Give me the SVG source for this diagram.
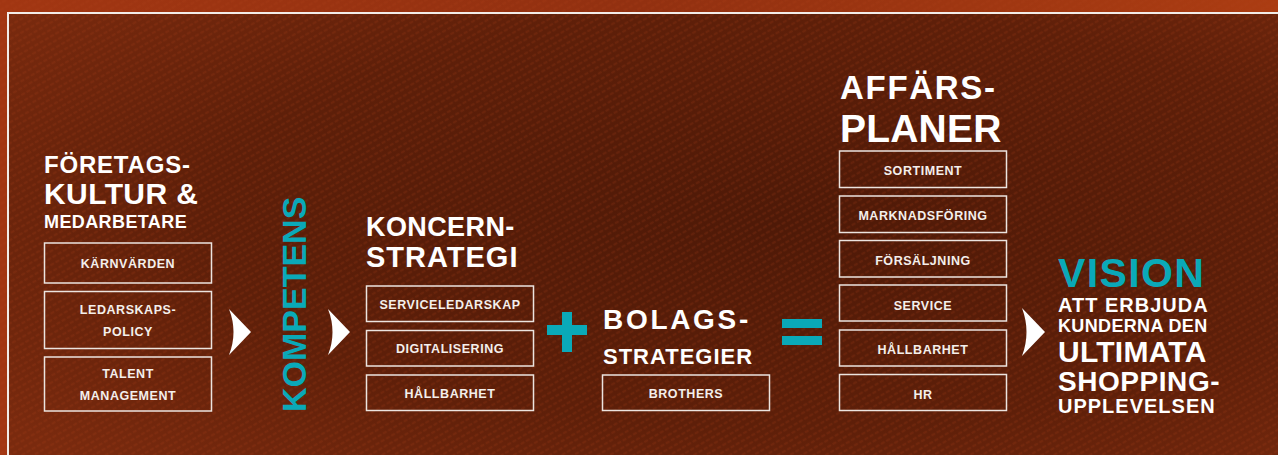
<svg xmlns="http://www.w3.org/2000/svg" width="1278" height="455" viewBox="0 0 1278 455">
<defs>
<radialGradient id="bg" cx="0.6" cy="0.45" r="0.75">
<stop offset="0" stop-color="#4e1907"/>
<stop offset="0.6" stop-color="#5e1f09"/>
<stop offset="1" stop-color="#7a2a0e"/>
</radialGradient>
<linearGradient id="outer" x1="0" y1="0" x2="1" y2="0">
<stop offset="0" stop-color="#a23612"/>
<stop offset="0.5" stop-color="#923010"/>
<stop offset="1" stop-color="#ab3c12"/>
</linearGradient>
<pattern id="tex" width="6" height="6" patternUnits="userSpaceOnUse" patternTransform="rotate(-30)">
<ellipse cx="3" cy="3" rx="2.4" ry="1.3" fill="#b0451a" opacity="0.18"/>
</pattern>
<style>
.box{fill:none;stroke:#ece4df;stroke-width:1.5}
.bt{font-family:"Liberation Sans",Arial,sans-serif;font-weight:bold;font-size:12.5px;letter-spacing:0.55px;fill:#f4efec;text-anchor:middle}
.h{font-family:"Liberation Sans",Arial,sans-serif;font-weight:bold;fill:#ffffff}
.teal{fill:#0aa9b8}
.arr{fill:#ffffff}
</style>
</defs>
<rect x="0" y="0" width="1278" height="455" fill="url(#outer)"/>
<rect x="8" y="13" width="1290" height="460" fill="url(#bg)"/>
<rect x="0" y="0" width="1278" height="455" fill="url(#tex)"/>
<rect x="8" y="13" width="1290" height="460" fill="none" stroke="#f2ece8" stroke-width="2"/>

<g id="foretagskultur">
<text class="h" x="44" y="173" font-size="24" letter-spacing="0.8">FÖRETAGS-</text>
<text class="h" x="44" y="204" font-size="30" letter-spacing="0.4">KULTUR &amp;</text>
<text class="h" x="44" y="228" font-size="18" letter-spacing="0.4">MEDARBETARE</text>
<rect class="box" x="44.5" y="243" width="167" height="40"/>
<text class="bt" x="128" y="268">KÄRNVÄRDEN</text>
<rect class="box" x="44.5" y="291.5" width="167" height="57"/>
<text class="bt" x="128" y="314">LEDARSKAPS-</text>
<text class="bt" x="128" y="336">POLICY</text>
<rect class="box" x="44.5" y="357" width="167" height="54"/>
<text class="bt" x="128" y="378">TALENT</text>
<text class="bt" x="128" y="400">MANAGEMENT</text>
</g>

<g id="kompetens">
<text class="h teal" transform="translate(306,412) rotate(-90)" font-size="34" letter-spacing="0">KOMPETENS</text>
</g>

<g id="koncernstrategi">
<text class="h" x="366" y="236" font-size="27" letter-spacing="0.4">KONCERN-</text>
<text class="h" x="366" y="267" font-size="29" letter-spacing="1">STRATEGI</text>
<rect class="box" x="366.5" y="286" width="167" height="35.5"/>
<text class="bt" x="450" y="309">SERVICELEDARSKAP</text>
<rect class="box" x="366.5" y="330.5" width="167" height="35.5"/>
<text class="bt" x="450" y="353">DIGITALISERING</text>
<rect class="box" x="366.5" y="375" width="167" height="35.5"/>
<text class="bt" x="450" y="397.5">HÅLLBARHET</text>
</g>

<g id="bolagsstrategier">
<text class="h" x="603" y="329" font-size="28" letter-spacing="2.7">BOLAGS-</text>
<text class="h" x="603" y="364" font-size="22" letter-spacing="1">STRATEGIER</text>
<rect class="box" x="602.5" y="375" width="167" height="35.5"/>
<text class="bt" x="686" y="397.5">BROTHERS</text>
</g>

<g id="affarsplaner">
<text class="h" x="840" y="99" font-size="33" letter-spacing="1.7">AFFÄRS-</text>
<text class="h" x="840" y="141.5" font-size="39" letter-spacing="0.2">PLANER</text>
<rect class="box" x="839.5" y="151" width="167" height="36.5"/>
<text class="bt" x="923" y="175">SORTIMENT</text>
<rect class="box" x="839.5" y="196" width="167" height="36.5"/>
<text class="bt" x="923" y="219.5">MARKNADSFÖRING</text>
<rect class="box" x="839.5" y="240.5" width="167" height="36.5"/>
<text class="bt" x="923" y="264.5">FÖRSÄLJNING</text>
<rect class="box" x="839.5" y="285" width="167" height="36"/>
<text class="bt" x="923" y="309.5">SERVICE</text>
<rect class="box" x="839.5" y="330" width="167" height="36"/>
<text class="bt" x="923" y="353.5">HÅLLBARHET</text>
<rect class="box" x="839.5" y="374.5" width="167" height="36"/>
<text class="bt" x="923" y="398.5">HR</text>
</g>

<g id="vision">
<text class="h teal" x="1058" y="287" font-size="41" letter-spacing="1.4">VISION</text>
<text class="h" x="1058" y="312" font-size="20" letter-spacing="1">ATT ERBJUDA</text>
<text class="h" x="1058" y="332" font-size="18" letter-spacing="0.35">KUNDERNA DEN</text>
<text class="h" x="1058" y="361.5" font-size="30" letter-spacing="0.25">ULTIMATA</text>
<text class="h" x="1058" y="390.5" font-size="28" letter-spacing="0.55">SHOPPING-</text>
<text class="h" x="1058" y="413" font-size="20" letter-spacing="1">UPPLEVELSEN</text>
</g>

<g id="connectors">
<path class="arr" d="M229,309 L251,332 L229,355 Q238,332 229,309 Z"/>
<path class="arr" d="M328,309 L350,332 L328,355 Q337,332 328,309 Z"/>
<path class="arr" d="M1022,308 L1045,332 L1022,356 Q1031,332 1022,308 Z"/>
<path class="teal" d="M562,312 H572 V325 H587 V335 H572 V352 H562 V335 H547 V325 H562 Z"/>
<rect class="teal" x="782" y="319" width="40" height="9"/>
<rect class="teal" x="782" y="336" width="40" height="9"/>
</g>
</svg>
